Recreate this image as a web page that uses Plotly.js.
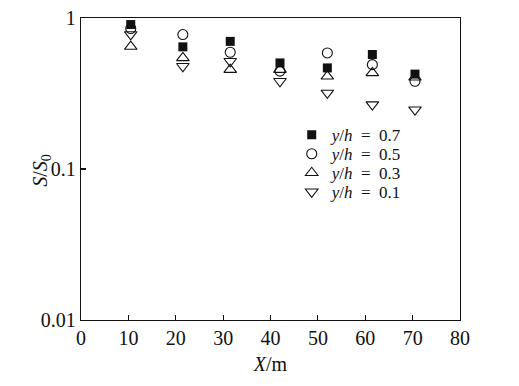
<!DOCTYPE html>
<html>
<head>
<meta charset="utf-8">
<script src="https://cdn.plot.ly/plotly-3.0.1.min.js"></script>
<style>html,body{margin:0;padding:0;background:#fff;}#chart{width:519px;height:386px;}</style>
</head>
<body>
<div id="chart"></div>
<script>
// Data
const xPos = [10.5, 21.5, 31.5, 42, 52, 61.5, 70.5];
const s07 = [0.905, 0.644, 0.70, 0.504, 0.467, 0.573, 0.425];
const s05 = [0.852, 0.777, 0.593, 0.445, 0.587, 0.491, 0.381];
const s03 = [0.647, 0.544, 0.455, 0.455, 0.411, 0.433, 0.405];
const s01 = [0.778, 0.479, 0.517, 0.381, 0.319, 0.267, 0.247];
const seriesNames = ['<i>y</i>/<i>h</i>\u2002=\u20020.7', '<i>y</i>/<i>h</i>\u2002=\u20020.5',
                     '<i>y</i>/<i>h</i>\u2002=\u20020.3', '<i>y</i>/<i>h</i>\u2002=\u20020.1'];
const xTicks = [0, 10, 20, 30, 40, 50, 60, 70, 80];
const yTicks = [0.01, 0.1, 1];
const yTickText = ['0.01', '0.1', '1'];

const FONT = 'Liberation Serif, Times New Roman, serif';
const series = [s07, s05, s03, s01];
const symbols = ['square', 'circle-open', 'triangle-up-open', 'triangle-down-open'];
const sizes = [9, 10, 11, 11];
const legendIds = ['legend', 'legend2', 'legend3', 'legend4'];

const traces = series.map((s, i) => ({
  x: xPos, y: s, type: 'scatter', mode: 'markers', name: seriesNames[i],
  legend: legendIds[i],
  marker: {symbol: symbols[i], size: sizes[i], color: '#111',
           line: {color: '#111', width: i === 0 ? 0 : 1.1}},
  hoverinfo: 'x+y'
}));

const legendRowY = [0.612, 0.549, 0.486, 0.423];
function legendBox(i) {
  return {x: 0.556, y: legendRowY[i], xanchor: 'left', yanchor: 'middle', bgcolor: 'rgba(0,0,0,0)',
          font: {family: FONT, size: 17, color: '#111'}, itemwidth: 30};
}

const layout = {
  width: 519, height: 386,
  margin: {l: 81, r: 59, t: 18, b: 66},
  paper_bgcolor: '#fff', plot_bgcolor: '#fff',
  font: {family: FONT, size: 20, color: '#111'},
  showlegend: true,
  legend: legendBox(0), legend2: legendBox(1), legend3: legendBox(2), legend4: legendBox(3),
  xaxis: {
    range: [0, 80], tickvals: xTicks, ticks: 'inside', ticklen: 5, tickwidth: 1.2, tickcolor: '#111',
    showline: true, linecolor: '#111', linewidth: 1.3, mirror: true, showgrid: false, zeroline: false,
    tickfont: {family: FONT, size: 20},
    title: {text: '<i>X</i>/m', font: {family: FONT, size: 20}, standoff: 8}
  },
  yaxis: {
    type: 'log', range: [-2, 0], tickvals: yTicks, ticktext: yTickText, ticks: 'inside', ticklen: 5,
    tickwidth: 1.2, tickcolor: '#111',
    showline: true, linecolor: '#111', linewidth: 1.3, mirror: true, showgrid: false, zeroline: false,
    tickfont: {family: FONT, size: 20}
  },
  annotations: [{
    xref: 'paper', yref: 'paper', x: -0.103, y: 0.4975, xanchor: 'center', yanchor: 'middle',
    textangle: -90, showarrow: false, text: '<i>S</i>/<i>S</i><sub>0</sub>',
    font: {family: FONT, size: 20, color: '#111'}
  }]
};

Plotly.newPlot('chart', traces, layout, {staticPlot: true, displayModeBar: false});
</script>
</body>
</html>
